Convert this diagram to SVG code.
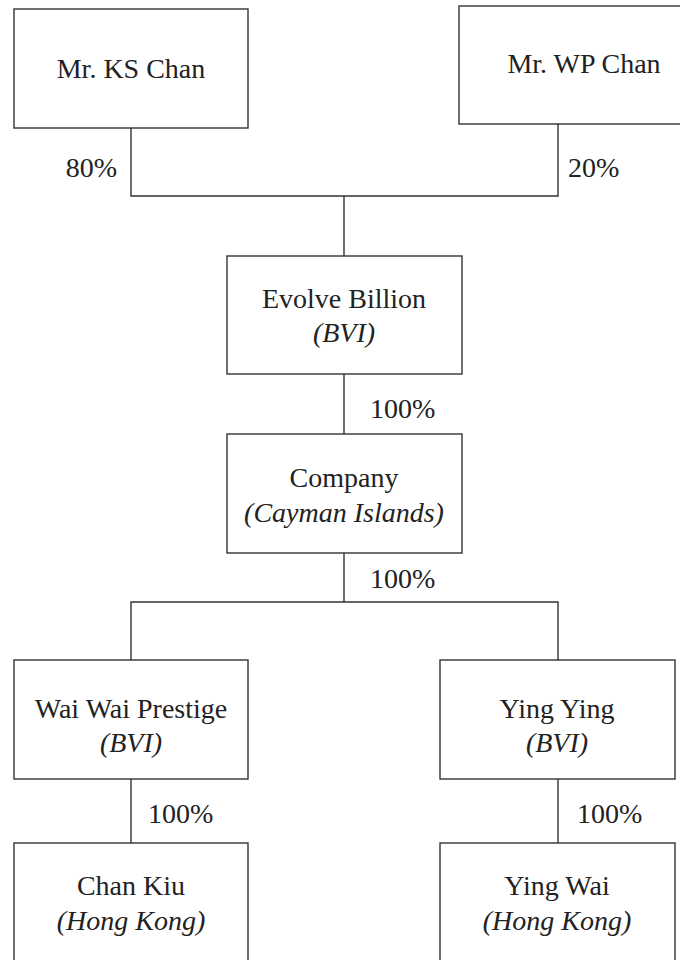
<svg xmlns="http://www.w3.org/2000/svg" width="680" height="960" viewBox="0 0 680 960">
<style>
.box{fill:#fff;stroke:#333;stroke-width:1.4}
.ln{fill:none;stroke:#333;stroke-width:1.4}
text{font-family:"Liberation Serif","Times New Roman",serif;font-size:28px;fill:#222}
.c{text-anchor:middle}
.i{font-style:italic}
</style>
<rect width="680" height="960" fill="#fff"/>
<g id="connectors">
<path class="ln" d="M131,128 V196 H558 V124"/>
<path class="ln" d="M344,196 V256"/>
<path class="ln" d="M344,374 V434"/>
<path class="ln" d="M344,553 V602"/>
<path class="ln" d="M131,660 V602 H558 V660"/>
<path class="ln" d="M131,779 V843"/>
<path class="ln" d="M558,779 V843"/>
<text x="117" y="177" text-anchor="end">80%</text>
<text x="568" y="177">20%</text>
<text x="370" y="418">100%</text>
<text x="370" y="588">100%</text>
<text x="148" y="823">100%</text>
<text x="577" y="823">100%</text>
</g>
<g id="ks-chan">
<rect class="box" x="14" y="9" width="234" height="119"/>
<text class="c" x="131" y="78">Mr. KS Chan</text>
</g>
<g id="wp-chan">
<rect class="box" x="459" y="6" width="240" height="118"/>
<text class="c" x="584" y="73">Mr. WP Chan</text>
</g>
<g id="evolve-billion">
<rect class="box" x="227" y="256" width="235" height="118"/>
<text class="c" x="344" y="308">Evolve Billion</text>
<text class="c i" x="344" y="342">(BVI)</text>
</g>
<g id="company">
<rect class="box" x="227" y="434" width="235" height="119"/>
<text class="c" x="344" y="487">Company</text>
<text class="c i" x="344" y="522">(Cayman Islands)</text>
</g>
<g id="wai-wai-prestige">
<rect class="box" x="14" y="660" width="234" height="119"/>
<text class="c" x="131" y="718">Wai Wai Prestige</text>
<text class="c i" x="131" y="752">(BVI)</text>
</g>
<g id="ying-ying">
<rect class="box" x="440" y="660" width="235" height="119"/>
<text class="c" x="557" y="718">Ying Ying</text>
<text class="c i" x="557" y="752">(BVI)</text>
</g>
<g id="chan-kiu">
<rect class="box" x="14" y="843" width="234" height="130"/>
<text class="c" x="131" y="895">Chan Kiu</text>
<text class="c i" x="131" y="930">(Hong Kong)</text>
</g>
<g id="ying-wai">
<rect class="box" x="440" y="843" width="235" height="130"/>
<text class="c" x="557" y="895">Ying Wai</text>
<text class="c i" x="557" y="930">(Hong Kong)</text>
</g>
</svg>
